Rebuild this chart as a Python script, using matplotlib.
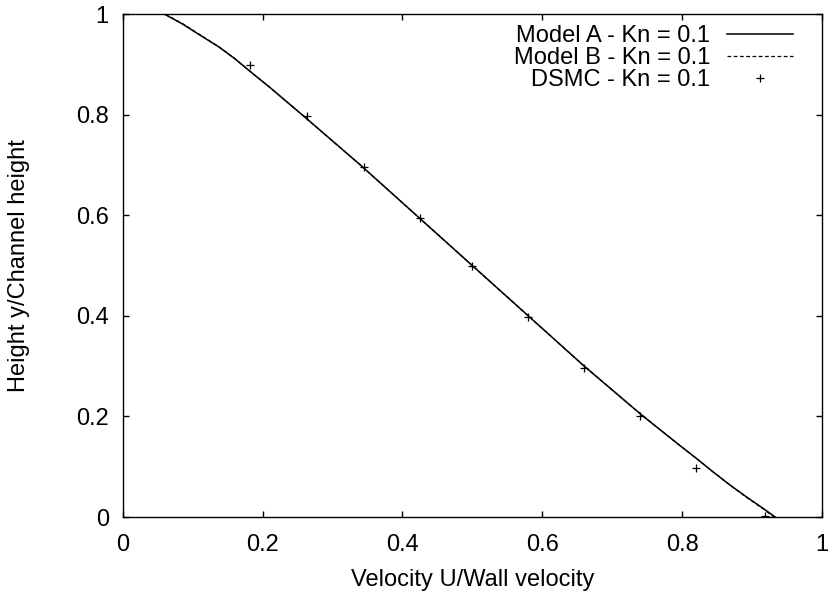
import matplotlib
matplotlib.use('Agg')
from matplotlib import pyplot as plt
from matplotlib.ticker import FuncFormatter
import numpy as np

plt.rcParams['font.family'] = ['Liberation Sans', 'DejaVu Sans']

# 模型曲线 (y 为高度, u 为速度)
y_model = [1.0, 0.981, 0.958, 0.935, 0.912, 0.882, 0.855, 0.796, 0.7, 0.6, 0.5,
           0.4, 0.3, 0.203, 0.143, 0.117, 0.090, 0.064, 0.040, 0.017, 0.0]
u_model_a = [0.060, 0.085, 0.111, 0.1375, 0.160, 0.186, 0.210, 0.260, 0.340, 0.420, 0.500,
             0.580, 0.660, 0.742, 0.796, 0.820, 0.844, 0.868, 0.892, 0.916, 0.933]
u_model_b = [0.061, 0.086, 0.112, 0.138, 0.160, 0.186, 0.210, 0.260, 0.340, 0.420, 0.500,
             0.580, 0.660, 0.742, 0.796, 0.820, 0.844, 0.868, 0.891, 0.915, 0.931]

# DSMC 数据点
u_dsmc = [0.182, 0.264, 0.345, 0.425, 0.500, 0.580, 0.660, 0.740, 0.820, 0.918]
y_dsmc = [0.900, 0.797, 0.697, 0.595, 0.500, 0.397, 0.297, 0.200, 0.098, 0.003]

fig, ax = plt.subplots(figsize=(8.29, 5.94), dpi=100)
fig.subplots_adjust(left=0.148, right=0.9916, top=0.976, bottom=0.1296)

ax.plot(u_model_a, y_model, c='k', linewidth=1.1, label='Model A - Kn = 0.1')
ax.plot(u_model_b, y_model, c='k', linewidth=0.9, linestyle=(0, (3, 2)), label='Model B - Kn = 0.1')
ax.plot(u_dsmc, y_dsmc, linestyle='none', marker='+', markersize=6, mew=0.9, c='k',
        label='DSMC - Kn = 0.1')

ax.set_xlim(0, 1)
ax.set_ylim(0, 1)
ax.set_xticks(np.arange(0, 1.01, 0.2))
ax.set_yticks(np.arange(0, 1.01, 0.2))
fmt = FuncFormatter(lambda v, p: '%g' % round(v, 1))
ax.xaxis.set_major_formatter(fmt)
ax.yaxis.set_major_formatter(fmt)

# 刻度线指向内侧, 四边都有
ax.tick_params(direction='in', top=True, right=True, length=4.5, width=1,
               labelsize=17)
ax.tick_params(axis='x', pad=12)
ax.tick_params(axis='y', pad=10)
for s in ax.spines.values():
    s.set_linewidth(1.0)

ax.set_xlabel('Velocity U/Wall velocity', fontsize=17)
ax.set_ylabel('Height y/Channel height', fontsize=17)
ax.xaxis.set_label_coords(0.5, -0.103)
ax.yaxis.set_label_coords(-0.132, 0.5)

ax.legend(loc='upper right', bbox_to_anchor=(0.9585, 0.979), frameon=False, markerfirst=False,
          fontsize=17, handlelength=2.8, labelspacing=0.0, handletextpad=0.72,
          borderaxespad=0, borderpad=0)

plt.savefig('out.png', dpi=100)
